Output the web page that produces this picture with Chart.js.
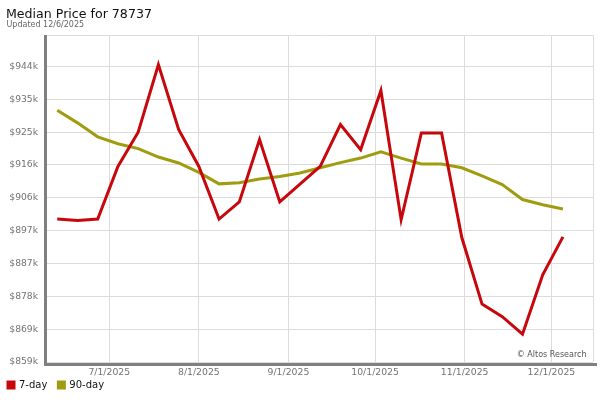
<!DOCTYPE html>
<html>
<head>
<meta charset="utf-8">
<script src="https://cdn.jsdelivr.net/npm/chart.js@4.4.1/dist/chart.umd.min.js"></script>
<style>
html,body{margin:0;padding:0;background:#fff;}
#wrap{position:relative;width:600px;height:400px;}
canvas{display:block;}
</style>
</head>
<body>
<div id="wrap"><canvas id="c" width="600" height="400"></canvas></div>
<script>
// ---- data ----
const DATES = ['2025-06-13','2025-06-20','2025-06-27','2025-07-04','2025-07-11','2025-07-18','2025-07-25','2025-08-01','2025-08-08','2025-08-15','2025-08-22','2025-08-29','2025-09-05','2025-09-12','2025-09-19','2025-09-26','2025-10-03','2025-10-10','2025-10-17','2025-10-24','2025-10-31','2025-11-07','2025-11-14','2025-11-21','2025-11-28','2025-12-05'];
const SEVEN_DAY = [900200, 899800, 900200, 915300, 925100, 944500, 925900, 915300, 900200, 905100, 923000, 905100, 910200, 915300, 927300, 920100, 937100, 900000, 924900, 924900, 894900, 875800, 872200, 867200, 884200, 895100];
const NINETY_DAY = [931400, 927800, 923800, 921800, 920400, 918000, 916300, 913600, 910300, 910600, 911700, 912400, 913400, 914900, 916400, 917700, 919500, 917700, 916000, 916000, 914900, 912600, 910100, 905800, 904300, 903100];
const SERIES_NAMES = ['7-day', '90-day'];
const Y_TICKS = [859200, 868620, 878040, 887460, 896880, 906300, 915720, 925140, 934560, 943980];
const Y_TICK_LABELS = ['$859k','$869k','$878k','$887k','$897k','$906k','$916k','$925k','$935k','$944k'];
const X_TICK_DATES = ['2025-07-01','2025-08-01','2025-09-01','2025-10-01','2025-11-01','2025-12-01'];
const X_TICK_LABELS = ['7/1/2025','8/1/2025','9/1/2025','10/1/2025','11/1/2025','12/1/2025'];
const TITLE = 'Median Price for 78737';
const SUBTITLE = 'Updated 12/6/2025';
const CREDIT = '\u00A9 Altos Research';

const Y_MIN = 859200, Y_MAX = 953000;
const toDay = s => Date.parse(s + 'T00:00:00Z') / 86400000;
const X_MIN = toDay('2025-06-09') + 0.45;
const X_MAX = toDay('2025-12-15') + 0.4;

const RED = '#c8070d';
const OLIVE = '#a09c10';
const GRID = '#dcdcdc';
const FONT = "'DejaVu Sans', Verdana, sans-serif";

Chart.defaults.font.family = FONT;

const pts = vals => DATES.map((d, i) => ({x: toDay(d), y: vals[i]}));

const framePlugin = {
  id: 'frame',
  beforeDatasetsDraw(chart) {
    const {ctx, chartArea: a} = chart;
    ctx.save();
    ctx.strokeStyle = GRID;
    ctx.lineWidth = 1;
    ctx.beginPath();
    ctx.moveTo(a.left, a.top + 0.5);
    ctx.lineTo(a.right + 0.5, a.top + 0.5);
    ctx.lineTo(a.right + 0.5, a.bottom);
    ctx.stroke();
    ctx.fillStyle = '#808080';
    ctx.fillRect(a.left - 3, a.top, 3, a.bottom - a.top + 4);
    ctx.fillRect(a.left - 3, a.bottom + 1, a.right - a.left + 7, 3);
    ctx.restore();
  },
  afterDraw(chart) {
    const {ctx, chartArea: a} = chart;
    ctx.save();
    ctx.textBaseline = 'alphabetic';
    ctx.textAlign = 'left';
    ctx.fillStyle = '#111';
    ctx.font = "12.6px " + FONT;
    ctx.fillText(TITLE, 6, 17.5);
    ctx.fillStyle = '#666';
    ctx.font = "8px " + FONT;
    ctx.fillText(SUBTITLE, 6.5, 27);
    ctx.textAlign = 'right';
    ctx.fillStyle = '#555';
    ctx.fillText(CREDIT, a.right - 6.5, 357);
    ctx.restore();
  }
};

new Chart(document.getElementById('c'), {
  type: 'line',
  data: {
    datasets: [
      {label: SERIES_NAMES[0], data: pts(SEVEN_DAY), borderColor: RED, backgroundColor: RED, borderWidth: 3, pointRadius: 0, tension: 0, fill: false},
      {label: SERIES_NAMES[1], data: pts(NINETY_DAY), borderColor: OLIVE, backgroundColor: OLIVE, borderWidth: 3, pointRadius: 0, tension: 0, fill: false}
    ]
  },
  options: {
    responsive: false,
    devicePixelRatio: 1,
    animation: false,
    layout: {padding: {left: -3, right: 7, top: 35, bottom: 0}},
    plugins: {
      title: {display: false},
      tooltip: {enabled: false},
      legend: {
        display: true,
        position: 'bottom',
        align: 'start',
        labels: {boxWidth: 6, boxHeight: 6, padding: 11, color: '#111', font: {size: 10, family: FONT}}
      }
    },
    scales: {
      x: {
        type: 'linear',
        min: X_MIN,
        max: X_MAX,
        afterBuildTicks: s => { s.ticks = X_TICK_DATES.map(d => ({value: toDay(d)})); },
        afterFit: s => { s.height = 7; },
        ticks: {
          autoSkip: false,
          maxRotation: 0,
          mirror: true,
          padding: -16.3,
          color: '#737373',
          font: {size: 9.3, family: FONT},
          callback: (v) => { const i = X_TICK_DATES.findIndex(d => toDay(d) === v); return i >= 0 ? X_TICK_LABELS[i] : ''; }
        },
        grid: {color: GRID, drawTicks: false, lineWidth: 1},
        border: {display: false}
      },
      y: {
        type: 'linear',
        min: Y_MIN,
        max: Y_MAX,
        afterBuildTicks: s => { s.ticks = Y_TICKS.map(v => ({value: v})); },
        afterFit: s => { s.width = 50; },
        ticks: {
          padding: 9,
          color: '#737373',
          font: {size: 9.2, family: FONT},
          callback: (v) => { const i = Y_TICKS.indexOf(v); return i >= 0 ? Y_TICK_LABELS[i] : ''; }
        },
        grid: {color: GRID, drawTicks: false, lineWidth: 1},
        border: {display: false}
      }
    }
  },
  plugins: [framePlugin]
});
</script>
</body>
</html>
